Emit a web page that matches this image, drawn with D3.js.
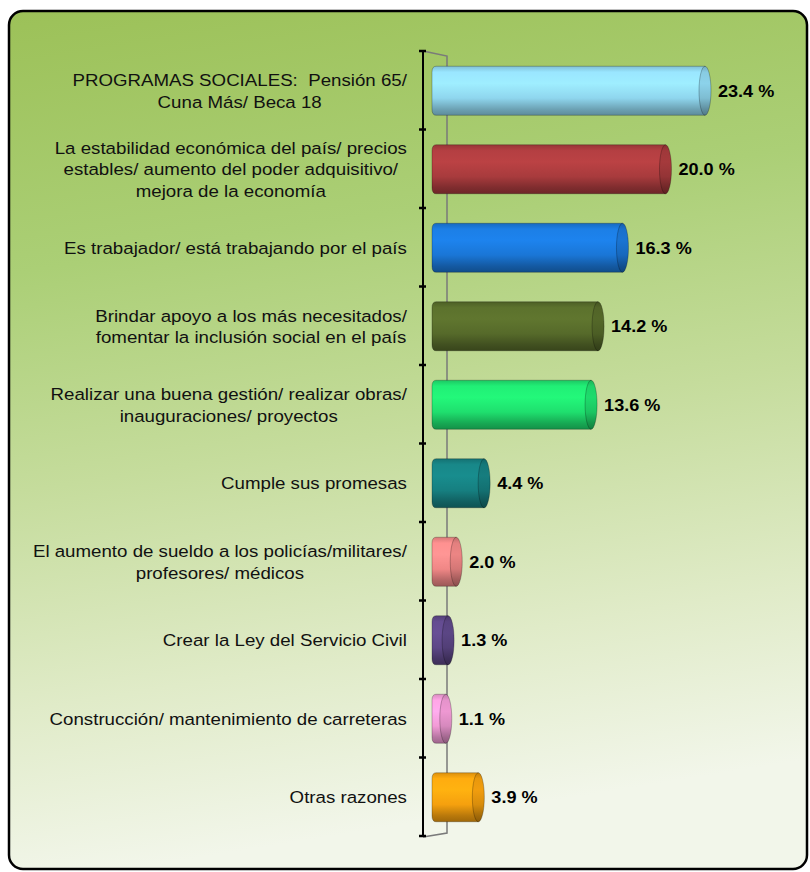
<!DOCTYPE html>
<html><head><meta charset="utf-8">
<script src="https://cdn.jsdelivr.net/npm/d3@7/dist/d3.min.js"></script>
<style>html,body{margin:0;padding:0;background:#fff;}svg{display:block;} text{white-space:pre;}</style>
</head><body>
<script>
const categories = [
  ["PROGRAMAS SOCIALES:  Pensión 65/", "Cuna Más/ Beca 18"],
  ["La estabilidad económica del país/ precios", "estables/ aumento del poder adquisitivo/", "mejora de la economía"],
  ["Es trabajador/ está trabajando por el país"],
  ["Brindar apoyo a los más necesitados/", "fomentar la inclusión social en el país"],
  ["Realizar una buena gestión/ realizar obras/", "inauguraciones/ proyectos"],
  ["Cumple sus promesas"],
  ["El aumento de sueldo a los policías/militares/", "profesores/ médicos"],
  ["Crear la Ley del Servicio Civil"],
  ["Construcción/ mantenimiento de carreteras"],
  ["Otras razones"]
];
const values = [23.4, 20.0, 16.3, 14.2, 13.6, 4.4, 2.0, 1.3, 1.1, 3.9];
const valueLabels = ["23.4 %", "20.0 %", "16.3 %", "14.2 %", "13.6 %", "4.4 %", "2.0 %", "1.3 %", "1.1 %", "3.9 %"];
const barColors = ["#8fd6ee", "#a83b3d", "#1a76d6", "#566a2a", "#1fdf6e", "#167f80", "#f08786", "#5d4787", "#f29bd6", "#f5a00e"];

const W = 810, H = 872;
const svg = d3.select("body").append("svg").attr("width", W).attr("height", H);
const defs = svg.append("defs");

// background gradient
const bg = defs.append("linearGradient").attr("id", "bg").attr("x1", 0).attr("y1", 0).attr("x2", 0.15).attr("y2", 1);
[[0, "#9cc158"], [0.3, "#abcf76"], [0.55, "#c5dc9c"], [0.8, "#e0ebc8"], [1, "#f2f6ea"]]
  .forEach(([o, c]) => bg.append("stop").attr("offset", o).attr("stop-color", c));

svg.append("rect").attr("x", 9).attr("y", 11).attr("width", 798).attr("height", 858)
  .attr("rx", 14).attr("fill", "url(#bg)").attr("stroke", "#000").attr("stroke-width", 2.5);

const ids = categories.map((d, i) => "c" + i);
const y = d3.scaleBand().domain(ids).range([51, 836]);
const x = d3.scaleLinear().domain([0, 23.4]).range([439, 711]);
const barX0 = 432, barH = 49, capRx = 6;

// gradients per bar
barColors.forEach((c, i) => {
  const col = d3.color(c);
  const stops = [[0, col.darker(0.3)], [0.12, col.brighter(0.2)], [0.35, col.brighter(0.3)], [0.65, col], [0.88, col.darker(0.8)], [1, col.darker(1.2)]];
  const g = defs.append("linearGradient").attr("id", "bar" + i).attr("x1", 0).attr("y1", 0).attr("x2", 0).attr("y2", 1);
  stops.forEach(([o, cc]) => g.append("stop").attr("offset", o).attr("stop-color", cc.formatHex()));
  const g2 = defs.append("linearGradient").attr("id", "cap" + i).attr("x1", 0).attr("y1", 0).attr("x2", 0).attr("y2", 1);
  stops.forEach(([o, cc]) => g2.append("stop").attr("offset", o).attr("stop-color", cc.darker(0.35).formatHex()));
});

// back wall (3D)
svg.append("path")
  .attr("d", `M423,51 L447,56 L447,833 L423,837`)
  .attr("fill", "none").attr("stroke", "#7a7a7a").attr("stroke-width", 1.5);

// axis
const axis = svg.append("g");
axis.append("line").attr("x1", 423).attr("x2", 423).attr("y1", 51).attr("y2", 836)
  .attr("stroke", "#000").attr("stroke-width", 2);
const bounds = ids.map(id => y(id)).concat([y.range()[1]]);
axis.selectAll("line.tick").data(bounds).join("line").attr("class", "tick")
  .attr("x1", 419).attr("x2", 426).attr("y1", d => d).attr("y2", d => d)
  .attr("stroke", "#000").attr("stroke-width", 2.5);

// bars
const bars = svg.append("g").selectAll("g").data(values).join("g");
bars.each(function (v, i) {
  const g = d3.select(this);
  const cy = y(ids[i]) + y.bandwidth() / 2 + 0.5;
  const xEnd = x(v);
  const top = cy - barH / 2;
  g.append("path")
    .attr("d", `M${barX0 + 4},${top} L${xEnd - capRx},${top} L${xEnd - capRx},${top + barH} L${barX0 + 4},${top + barH} Q${barX0},${top + barH} ${barX0},${top + barH - 6} L${barX0},${top + 6} Q${barX0},${top} ${barX0 + 4},${top} Z`)
    .attr("fill", `url(#bar${i})`).attr("stroke", "rgba(0,0,0,0.25)").attr("stroke-width", 1);
  g.append("ellipse").attr("cx", xEnd - capRx).attr("cy", cy).attr("rx", capRx).attr("ry", barH / 2)
    .attr("fill", `url(#cap${i})`).attr("stroke", "rgba(0,0,0,0.25)").attr("stroke-width", 1);
  g.append("text")
    .attr("transform", `translate(${xEnd + 7},${cy + 6}) scale(1.13,1)`)
    .attr("font-family", "Liberation Sans, Arial, sans-serif").attr("font-weight", "bold")
    .attr("font-size", 16).attr("fill", "#000").text(valueLabels[i]);
});

// category labels
const sx = 1.1, lh = 21.5, rightEdge = 407;
categories.forEach((lines, i) => {
  const cy = y(ids[i]) + y.bandwidth() / 2;
  const g = svg.append("g");
  const texts = lines.map((t, k) => g.append("text")
    .attr("font-family", "Liberation Sans, Arial, sans-serif").attr("font-size", 17)
    .attr("fill", "#111").attr("text-anchor", "middle").attr("xml:space", "preserve").text(t));
  const maxW = d3.max(texts, t => t.node().getComputedTextLength()) * sx;
  const cx = rightEdge - maxW / 2;
  const n = lines.length;
  texts.forEach((t, k) => {
    const by = cy + 6.5 + (k - (n - 1) / 2) * lh;
    t.attr("transform", `translate(${cx},${by}) scale(${sx},1)`);
  });
});
</script>
</body></html>
